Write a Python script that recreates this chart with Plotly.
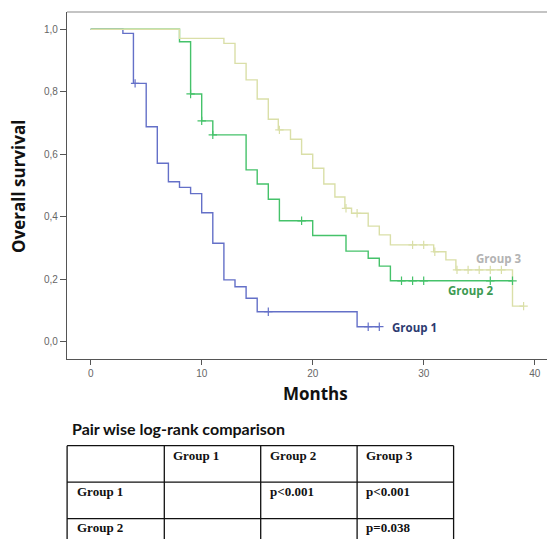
import numpy as np
import plotly.graph_objects as go

# ---------------- data ----------------
g1_time = [0, 2.9, 3.85, 5, 6, 7, 8, 9, 10, 11, 12, 13, 14, 15, 24, 26]
g1_surv = [1.0, 0.987, 0.827, 0.688, 0.571, 0.512, 0.494, 0.474, 0.413, 0.315, 0.198, 0.176, 0.139, 0.096, 0.048, 0.048]
g1_cens = [4, 16, 25, 26]

g2_time = [0, 8, 9, 10, 11, 14, 15, 16, 17, 20, 23, 25, 26, 27, 38]
g2_surv = [1.0, 0.96, 0.793, 0.707, 0.662, 0.55, 0.505, 0.456, 0.387, 0.34, 0.29, 0.267, 0.242, 0.195, 0.195]
g2_cens = [9, 10, 11, 19, 28, 29, 30, 36, 38]

g3_time = [0, 8, 12, 13, 14, 15, 16, 16.9, 18, 19, 20, 21, 22, 22.9, 23.5, 25, 26, 27, 30.9, 32, 32.9, 38, 39]
g3_surv = [1.0, 0.971, 0.955, 0.891, 0.838, 0.777, 0.712, 0.678, 0.648, 0.60, 0.555, 0.505, 0.463, 0.427, 0.411, 0.37, 0.342, 0.31, 0.288, 0.262, 0.23, 0.114, 0.114]
g3_cens = [17, 23, 24, 29, 30, 31, 33, 34, 35, 36, 37, 39]

group_names = ["Group 1", "Group 2", "Group 3"]
y_ticks = [0.0, 0.2, 0.4, 0.6, 0.8, 1.0]
y_ticktext = ["0,0", "0,2", "0,4", "0,6", "0,8", "1,0"]
x_ticks = [0, 10, 20, 30, 40]

table_title = "Pair wise log-rank comparison"
col_headers = ["", "Group 1", "Group 2", "Group 3"]
row_labels = ["Group 1", "Group 2"]
cells = [["", "p<0.001", "p<0.001"],
         ["", "", "p=0.038"]]

# ---------------- geometry helpers (layout only) ----------------
OFF = 8  # default page body margin
W_FIG, H_FIG = 555 - OFF, 539 - OFF
L, T, R = 67 - OFF, 12 - OFF, 2
PLOT_BOTTOM = 359 - OFF
B = H_FIG - PLOT_BOTTOM
PW, PH = W_FIG - L - R, H_FIG - T - B


def px(x):
    return (x - OFF - L) / PW


def py(y):
    return (T + PH - (y - OFF)) / PH


def step_value(times, surv, t):
    times = np.asarray(times)
    idx = np.searchsorted(times, t, side="right") - 1
    return np.asarray(surv)[idx]


colors = ["#6470c8", "#45c26a", "#dadfa8"]
label_colors = ["#2d3a70", "#3d9a52", "#b3b3b3"]

fig = go.Figure()
series = [(g1_time, g1_surv, g1_cens), (g2_time, g2_surv, g2_cens), (g3_time, g3_surv, g3_cens)]
for (t, s, c), col, name in zip(series, colors, group_names):
    fig.add_trace(go.Scatter(x=t, y=s, mode="lines", line=dict(color=col, width=1.4, shape="hv"),
                             name=name, showlegend=False, hoverinfo="skip"))
for (t, s, c), col, name in zip(series, colors, group_names):
    fig.add_trace(go.Scatter(x=c, y=step_value(t, s, c), mode="markers",
                             marker=dict(symbol="cross-thin", size=6, line=dict(color=col, width=1.2)),
                             showlegend=False, hoverinfo="skip"))

# group labels
label_pos = [(390, 327.3), (445.7, 290.7), (474, 258.3)]
for name, col, (lx, ly) in zip(group_names, label_colors, label_pos):
    fig.add_annotation(x=px(lx), y=py(ly), xref="paper", yref="paper", text="<b>%s</b>" % name,
                       showarrow=False, xanchor="left", yanchor="middle",
                       font=dict(family="Open Sans", size=11.5, color=col))

# axis titles
fig.add_annotation(x=px(18.3), y=py(186.7), xref="paper", yref="paper", text="<b>Overall survival</b>",
                   textangle=-90, showarrow=False, xanchor="center", yanchor="middle",
                   font=dict(family="Open Sans", size=17, color="#111"))
fig.add_annotation(x=px(315.8), y=py(393.3), xref="paper", yref="paper", text="<b>Months</b>",
                   showarrow=False, xanchor="center", yanchor="middle",
                   font=dict(family="Open Sans", size=17, color="#111"))

# frame top / right
shapes = [
    dict(type="line", xref="paper", yref="paper", x0=0, x1=1, y0=1, y1=1, line=dict(color="#8a8a8a", width=1.2)),
    dict(type="line", xref="paper", yref="paper", x0=1, x1=1, y0=0, y1=1, line=dict(color="#e2e2e2", width=1)),
]

# table
fig.add_annotation(x=px(69.6), y=py(428), xref="paper", yref="paper", text="<b>%s</b>" % table_title,
                   showarrow=False, xanchor="left", yanchor="middle",
                   font=dict(family="Lato", size=16, color="#111"))
col_lines = [67.1, 164.3, 260.7, 357.1, 453.6]
row_lines = [445.7, 482.1, 518.6]
bottom = 575
for xl in col_lines:
    shapes.append(dict(type="line", xref="paper", yref="paper", x0=px(xl), x1=px(xl),
                       y0=py(row_lines[0]), y1=py(bottom), line=dict(color="#111", width=1.3)))
for yl in row_lines:
    shapes.append(dict(type="line", xref="paper", yref="paper", x0=px(col_lines[0]), x1=px(col_lines[-1]),
                       y0=py(yl), y1=py(yl), line=dict(color="#111", width=1.3)))

cell_font = dict(family="Liberation Serif", size=13, color="#111")
text_x = [75, 170.7, 267.9, 364.3]
row_text_y = [455.4, 491.8, 527.5]
for j, h in enumerate(col_headers):
    if h:
        fig.add_annotation(x=px(text_x[j]), y=py(row_text_y[0]), xref="paper", yref="paper",
                           text="<b>%s</b>" % h, showarrow=False, xanchor="left", yanchor="middle", font=cell_font)
for i, rl in enumerate(row_labels):
    fig.add_annotation(x=px(text_x[0]), y=py(row_text_y[i + 1]), xref="paper", yref="paper",
                       text="<b>%s</b>" % rl, showarrow=False, xanchor="left", yanchor="middle", font=cell_font)
    for j, v in enumerate(cells[i]):
        if v:
            fig.add_annotation(x=px(text_x[j + 1]), y=py(row_text_y[i + 1]), xref="paper", yref="paper",
                               text="<b>%s</b>" % v.replace("<", "&lt;"), showarrow=False,
                               xanchor="left", yanchor="middle", font=cell_font)

# data scale from the reference axes
x0_px, x_per = 90.7, 11.1
y0_px, y_per = 341.7, 312.4
left_px, right_px = L + OFF, L + PW + OFF
top_px, bot_px = T + OFF, T + PH + OFF
xr = [(left_px - x0_px) / x_per, (right_px - x0_px) / x_per]
yr = [(y0_px - bot_px) / y_per, (y0_px - top_px) / y_per]

fig.update_layout(
    width=W_FIG, height=H_FIG, margin=dict(l=L, r=R, t=T, b=B),
    paper_bgcolor="white", plot_bgcolor="white", shapes=shapes,
    xaxis=dict(range=xr, tickvals=x_ticks, showgrid=False, zeroline=False, showline=True,
               linecolor="#555", linewidth=1.2, ticks="outside", ticklen=5, tickcolor="#555",
               tickfont=dict(family="Liberation Sans", size=10, color="#666")),
    yaxis=dict(range=yr, tickvals=y_ticks, ticktext=y_ticktext, showgrid=False, zeroline=False,
               showline=True, linecolor="#555", linewidth=1.2, ticks="outside", ticklen=6, tickcolor="#555",
               tickfont=dict(family="Liberation Sans", size=10, color="#666")),
)

fig.write_html("out.html")
